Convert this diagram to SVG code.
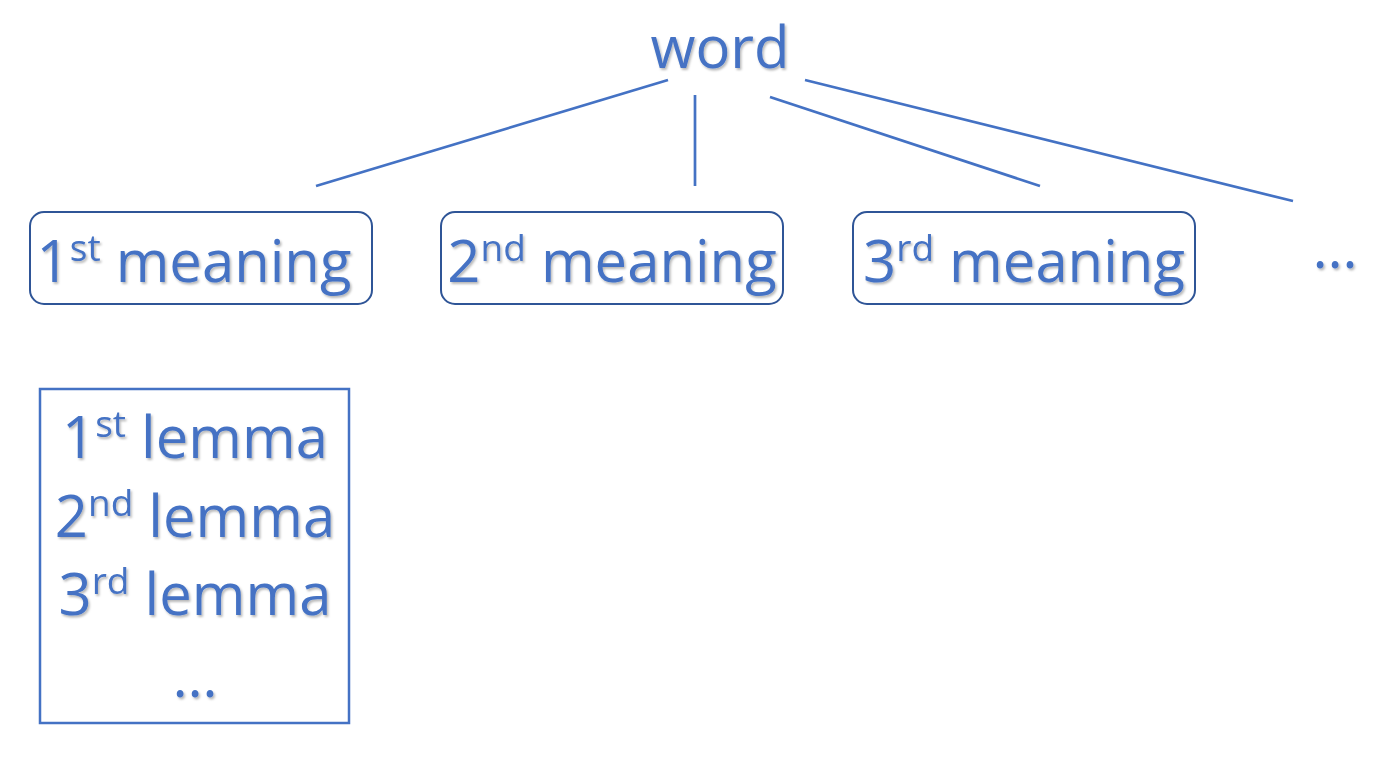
<svg xmlns="http://www.w3.org/2000/svg" width="1391" height="763" viewBox="0 0 1391 763">
<defs>
<filter id="sh" x="-10%" y="-10%" width="120%" height="130%">
<feDropShadow dx="1.5" dy="2" stdDeviation="1.2" flood-color="#000" flood-opacity="0.28"/>
</filter>
<style>
.t{font-family:"Open Sans","Noto Sans","Liberation Sans",sans-serif;font-size:58px;fill:#4472C4;text-anchor:middle;filter:url(#sh)}
.sup{font-size:37px}
.mbox{fill:#fff;stroke:#2F5597;stroke-width:2}
.lbox{fill:#fff;stroke:#4472C4;stroke-width:2.5}
.c line{stroke:#4472C4;stroke-width:2.7;fill:none}
</style>
</defs>
<rect width="1391" height="763" fill="#fff"/>
<g class="c" id="connectors">
<line x1="668" y1="80" x2="316" y2="186"/>
<line x1="695" y1="95" x2="695" y2="186"/>
<line x1="770" y1="97" x2="1040" y2="186"/>
<line x1="805" y1="80" x2="1293" y2="201"/>
</g>
<g id="word"><text class="t" x="720" y="68">word</text></g>
<g id="m1">
<rect class="mbox" x="30" y="212" width="342" height="92" rx="14"/>
<text class="t" x="194" y="282">1<tspan class="sup" dy="-21">st</tspan><tspan dy="21"> meaning</tspan></text>
</g>
<g id="m2">
<rect class="mbox" x="441" y="212" width="342" height="92" rx="14"/>
<text class="t" x="612" y="282">2<tspan class="sup" dy="-21">nd</tspan><tspan dy="21"> meaning</tspan></text>
</g>
<g id="m3">
<rect class="mbox" x="853" y="212" width="342" height="92" rx="14"/>
<text class="t" x="1024" y="282">3<tspan class="sup" dy="-21">rd</tspan><tspan dy="21"> meaning</tspan></text>
</g>
<g id="more"><text class="t" x="1335" y="268">…</text></g>
<g id="lemmas">
<rect class="lbox" x="40" y="389" width="309" height="334"/>
<text class="t" x="195" y="458">1<tspan class="sup" dy="-21">st</tspan><tspan dy="21"> lemma</tspan></text>
<text class="t" x="195" y="537">2<tspan class="sup" dy="-21">nd</tspan><tspan dy="21"> lemma</tspan></text>
<text class="t" x="195" y="615">3<tspan class="sup" dy="-21">rd</tspan><tspan dy="21"> lemma</tspan></text>
<text class="t" x="195" y="697">…</text>
</g>
</svg>
